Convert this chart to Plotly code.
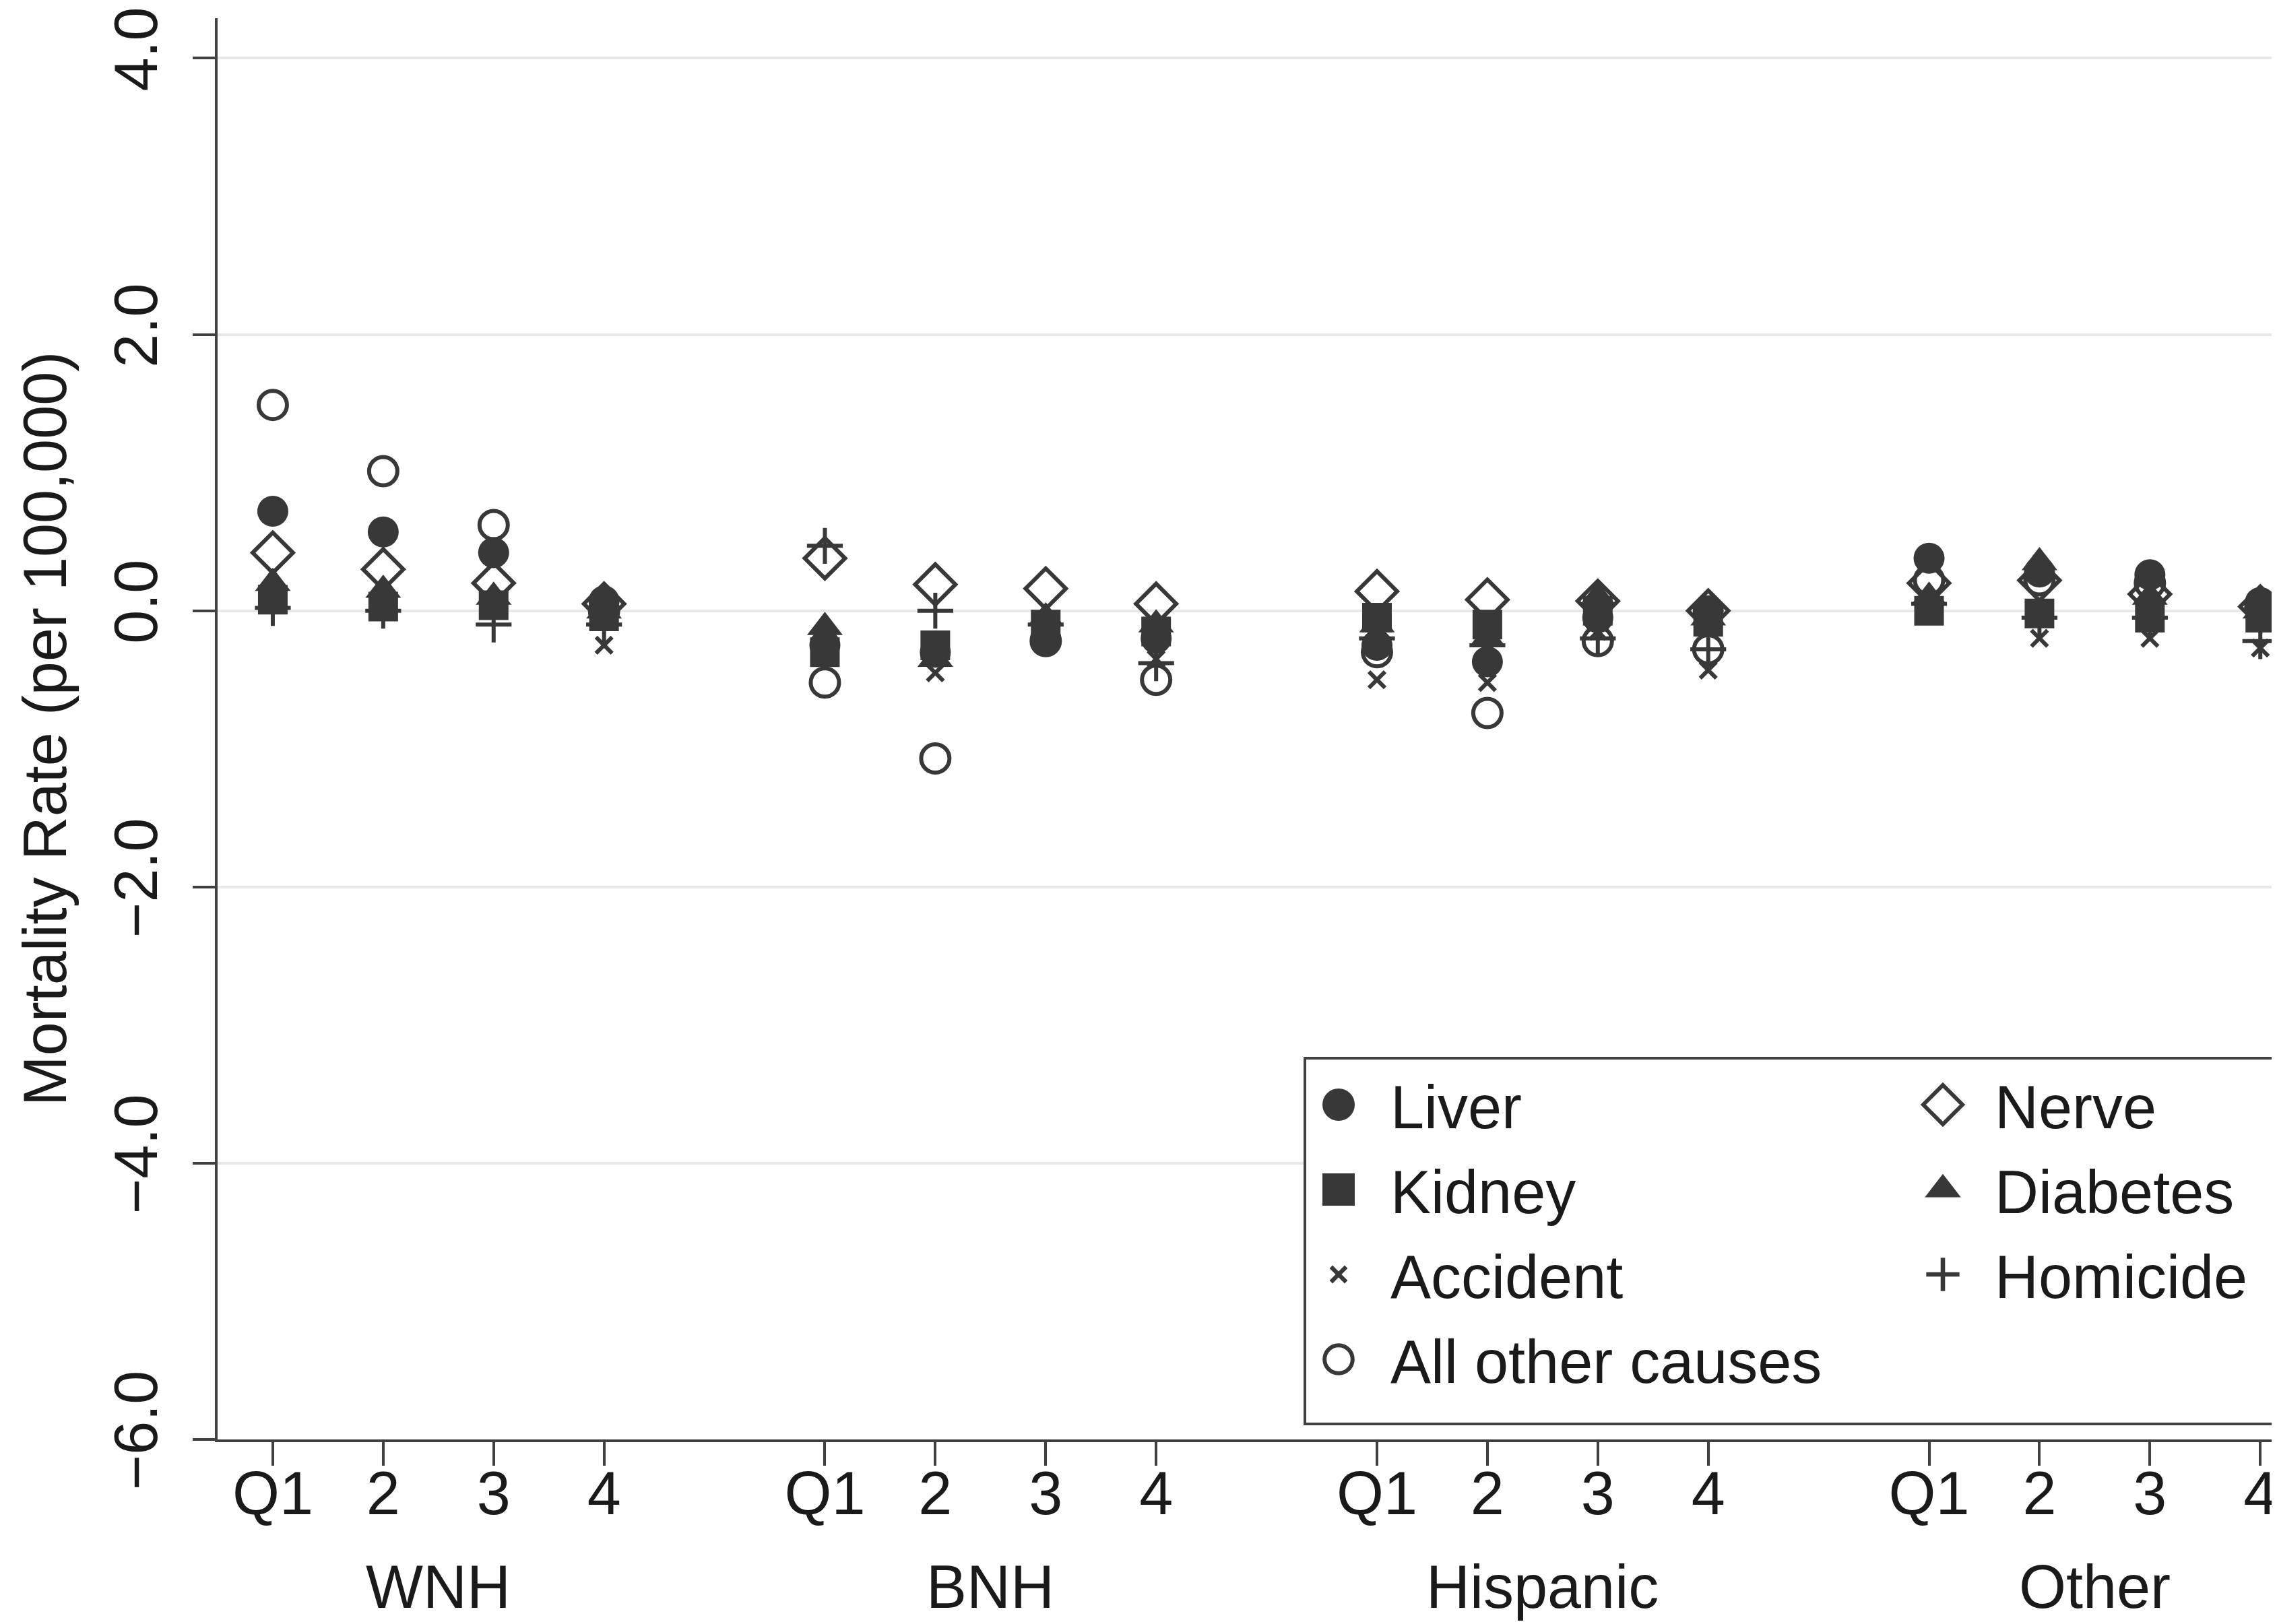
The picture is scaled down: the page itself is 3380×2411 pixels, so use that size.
import json
import plotly.graph_objects as go

# ---- data -------------------------------------------------------------
GROUPS = ["WNH", "BNH", "Hispanic", "Other"]
QUARTILES = ["Q1", "2", "3", "4"]

liver     = [0.72, 0.57, 0.42, 0.07,  -0.25, -0.30, -0.20, -0.20,  -0.25, -0.37, -0.05, 0.00,  0.38, 0.28, 0.26, 0.06]
kidney    = [0.08, 0.03, 0.04, -0.04, -0.30, -0.25, -0.10, -0.15,  -0.05, -0.10, 0.00, -0.08,  0.00, -0.02, -0.05, -0.05]
accident  = [0.05, 0.05, 0.02, -0.25, -0.30, -0.45, -0.15, -0.35,  -0.50, -0.52, -0.15, -0.43,  0.02, -0.20, -0.20, -0.27]
all_other = [1.49, 1.01, 0.62, 0.00,  -0.52, -1.07, -0.22, -0.50,  -0.30, -0.74, -0.22, -0.28,  0.22, 0.22, 0.20, 0.02]
nerve     = [0.42, 0.30, 0.20, 0.05,  0.38, 0.19, 0.16, 0.05,  0.14, 0.08, 0.07, 0.00,  0.20, 0.22, 0.12, 0.03]
diabetes  = [0.20, 0.15, 0.10, 0.00,  -0.12, -0.35, -0.05, -0.10,  -0.10, -0.20, 0.10, -0.05,  0.10, 0.35, 0.10, 0.00]
homicide  = [0.02, 0.00, -0.10, -0.10, 0.47, 0.00, -0.10, -0.38,  -0.20, -0.25, -0.20, -0.28,  0.05, -0.05, -0.05, -0.22]

Y_TICKS = [-6, -4, -2, 0, 2, 4]
Y_TICK_TEXT = ["\u22126.0", "\u22124.0", "\u22122.0", "0.0", "2.0", "4.0"]
Y_TITLE = "Mortality Rate (per 100,000)"

# x positions: quartiles 1..4 inside each group, one empty slot between groups
GROUP_STEP = len(QUARTILES) + 1
xpos = [g * GROUP_STEP + q + 1 for g in range(len(GROUPS)) for q in range(len(QUARTILES))]
xlabels = [QUARTILES[q] for g in range(len(GROUPS)) for q in range(len(QUARTILES))]
group_centers = [g * GROUP_STEP + (len(QUARTILES) + 1) / 2 for g in range(len(GROUPS))]

# ---- styling ----------------------------------------------------------
FONT = "Liberation Sans, Arial, Helvetica, sans-serif"
FS = 90
INK = "#1a1a1a"
MARK = "#383838"
AXIS = "#404040"
GRID = "#e8e8e8"

series = [
    # name, values, symbol, size, line width, legend, (legend scale, legend stroke)
    ("Liver", liver, "circle", 46, 0, "legend", (3.0, 0)),
    ("Kidney", kidney, "square", 44, 0, "legend", (3.0, 0)),
    ("Accident", accident, "x-thin-open", 24, 6, "legend", (1.4, 4.5)),
    ("All other causes", all_other, "circle-open", 42, 6, "legend", (2.6, 2.3)),
    ("Nerve", nerve, "diamond-open", 46, 6, "legend2", (2.8, 2.1)),
    ("Diabetes", diabetes, "triangle-up", 46, 0, "legend2", (2.9, 0)),
    ("Homicide", homicide, "cross-thin-open", 38, 6, "legend2", (2.2, 3.0)),
]

fig = go.Figure()
for name, vals, sym, size, lw, leg, _ in series:
    fig.add_trace(go.Scatter(
        x=xpos, y=vals, mode="markers", name=name,
        legend=leg, legendgroup=name, showlegend=True,
        marker=dict(symbol=sym, size=size, color=MARK,
                    line=dict(color=MARK, width=lw)),
    ))

W, H = 3380, 2411
ML, MR, MT, MB = 315, 0, 19, 282
PW, PH = W - ML - MR, H - MT - MB

def px_x(p):
    return (p - ML) / PW

def px_y(p):
    return (H - MB - p) / PH

legend_common = dict(
    font=dict(family=FONT, size=FS, color=INK),
    bgcolor="rgba(0,0,0,0)", borderwidth=0,
    orientation="v", xanchor="left", yanchor="top",
    itemwidth=144, tracegroupgap=6, traceorder="grouped",
)

fig.update_layout(
    width=W, height=H,
    margin=dict(l=ML, r=MR, t=MT, b=MB, pad=0),
    paper_bgcolor="white", plot_bgcolor="white",
    font=dict(family=FONT, size=FS, color=INK),
    showlegend=True,
    legend=dict(x=px_x(1902), y=px_y(1567), **legend_common),
    legend2=dict(x=px_x(2799), y=px_y(1567), **legend_common),
    xaxis=dict(
        range=[0.5, 19.2], tickmode="array", tickvals=xpos, ticktext=xlabels,
        showgrid=False, zeroline=False,
        showline=True, linecolor=AXIS, linewidth=4,
        ticks="outside", ticklen=35, tickwidth=4, tickcolor=AXIS,
        ticklabelstandoff=-36,
        tickfont=dict(family=FONT, size=FS, color=INK),
    ),
    yaxis=dict(
        range=[-6, 4.29], tickmode="array", tickvals=Y_TICKS, ticktext=Y_TICK_TEXT,
        tickangle=-90,
        showgrid=True, gridcolor=GRID, gridwidth=4, zeroline=False,
        showline=True, linecolor=AXIS, linewidth=4,
        ticks="outside", ticklen=33, tickwidth=4, tickcolor=AXIS,
        ticklabelstandoff=17,
        tickfont=dict(family=FONT, size=FS, color=INK),
        title=dict(text=Y_TITLE, font=dict(family=FONT, size=FS, color=INK), standoff=25),
    ),
)

# legend frame (extends beyond the right edge as in the source)
fig.add_shape(type="rect", xref="paper", yref="paper",
              x0=px_x(1929), x1=1.2, y0=px_y(2106), y1=px_y(1563),
              line=dict(color=AXIS, width=4), fillcolor="white", layer="above")

for gname, cx in zip(GROUPS, group_centers):
    fig.add_annotation(x=cx, xref="x", y=px_y(2348), yref="paper",
                       text=gname, showarrow=False, yanchor="middle",
                       font=dict(family=FONT, size=FS, color=INK))

# plotly caps legend symbols at 16px; enlarge them to match the source keys
legend_scales = {name: list(ls) for name, *_rest, ls in series}
post = """
var SC = %s;
var gd = document.getElementById('{plot_id}');
function itemName(tr) {
  var d = tr.__data__;
  if (d && d[0] && d[0].trace && d[0].trace.name) return d[0].trace.name;
  var t = tr.querySelector('text');
  return t ? t.textContent : null;
}
function fixLegend() {
  gd.querySelectorAll('g.traces').forEach(function (tr) {
    var s = SC[itemName(tr)];
    if (!s) return;
    tr.querySelectorAll('path.scatterpts').forEach(function (p) {
      var tf = p.getAttribute('transform') || '';
      if (tf.indexOf('scale') >= 0) return;
      p.setAttribute('transform', tf + ' scale(' + s[0] + ')');
      if (s[1] > 0) p.style.strokeWidth = s[1] + 'px';
    });
  });
}
fixLegend();
[0, 50, 200, 500, 1000, 2000].forEach(function (ms) { setTimeout(fixLegend, ms); });
gd.on('plotly_afterplot', fixLegend);
if (window.MutationObserver) {
  new MutationObserver(function () { fixLegend(); })
    .observe(gd, {subtree: true, childList: true, attributes: true, attributeFilter: ['transform']});
}
""" % json.dumps(legend_scales)

fig.write_html("out.html", post_script=post)
